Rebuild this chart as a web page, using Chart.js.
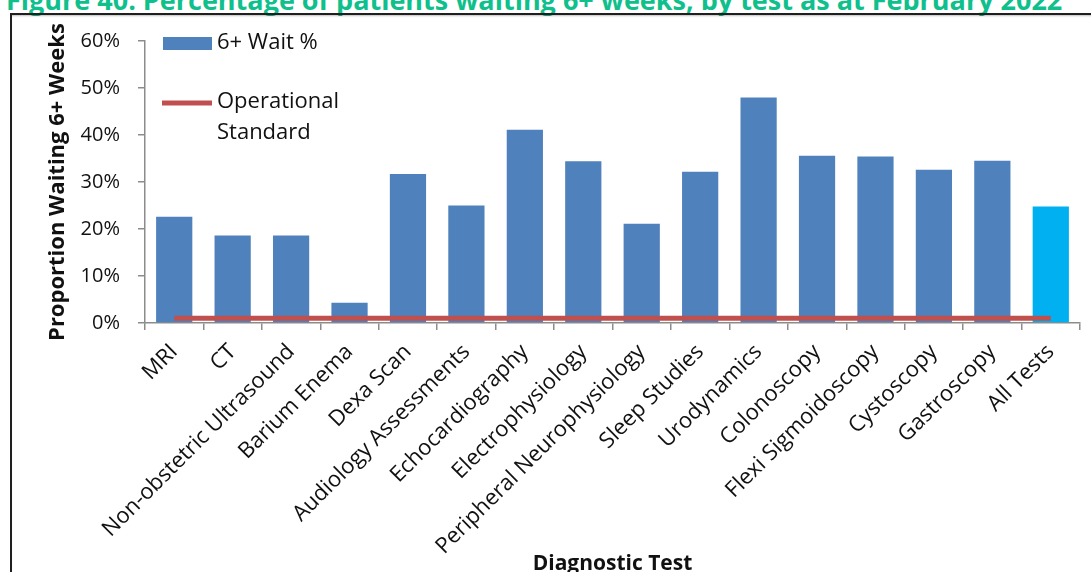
<!DOCTYPE html>
<html>
<head>
<meta charset="utf-8">
<script src="https://cdn.jsdelivr.net/npm/chart.js@4"></script>
<style>
  html, body { margin: 0; padding: 0; background: #fff; overflow: hidden; }
  body { width: 1091px; height: 572px; position: relative; }
  #titulo {
    position: absolute; left: 6px; top: -19px; white-space: nowrap;
    font: bold 27px "Open Sans", sans-serif; color: #0fbf8c;
  }
  #moldura {
    position: absolute; left: 10px; top: 13px; width: 1200px; height: 700px;
    border-top: 2px solid #1f1f1f; border-left: 2px solid #1f1f1f;
    box-shadow: -1px 1px 2px rgba(0,0,0,0.25) inset;
  }
  #caixa { position: absolute; left: 0; top: 0; width: 1091px; height: 590px; }
</style>
</head>
<body>
<div id="titulo">Figure 40: Percentage of patients waiting 6+ weeks, by test as at February 2022</div>
<div id="moldura"></div>
<div id="caixa"><canvas id="grafico"></canvas></div>
<script>
(function () {
  const testes = [
    "MRI", "CT", "Non-obstetric Ultrasound", "Barium Enema", "Dexa Scan",
    "Audiology Assessments", "Echocardiography", "Electrophysiology",
    "Peripheral Neurophysiology", "Sleep Studies", "Urodynamics", "Colonoscopy",
    "Flexi Sigmoidoscopy", "Cystoscopy", "Gastroscopy", "All Tests"
  ];
  const espera6 = [22.6, 18.6, 18.6, 4.3, 31.7, 25.0, 41.1, 34.4, 21.1, 32.2, 48.0, 35.6, 35.4, 32.6, 34.5, 24.8];
  const padraoOperacional = [1, 1, 1, 1, 1, 1, 1, 1, 1, 1, 1, 1, 1, 1, 1, 1];
  const ticksY = [0, 10, 20, 30, 40, 50, 60];

  const AZUL = "#4f81bd";
  const AZUL_TOTAL = "#00b0f0";
  const VERMELHO = "#c0504d";
  const FONTE = "'Open Sans', sans-serif";

  const coresBarras = testes.map(t => t === "All Tests" ? AZUL_TOTAL : AZUL);

  // legenda desenhada dentro da área do gráfico, como no original
  const legendaInterna = {
    id: "legendaInterna",
    afterDatasetsDraw(chart) {
      const { ctx, chartArea: ca } = chart;
      const x0 = ca.left + 18;
      ctx.save();
      ctx.fillStyle = AZUL;
      ctx.fillRect(x0, ca.top - 4, 49, 13);
      ctx.strokeStyle = VERMELHO;
      ctx.lineWidth = 5;
      ctx.beginPath();
      ctx.moveTo(x0 - 1, ca.top + 62);
      ctx.lineTo(x0 + 49, ca.top + 62);
      ctx.stroke();
      ctx.fillStyle = "#111";
      ctx.font = "22px " + FONTE;
      ctx.textBaseline = "middle";
      ctx.fillText("6+ Wait %", x0 + 54, ca.top + 2);
      ctx.fillText("Operational", x0 + 54, ca.top + 61);
      ctx.fillText("Standard", x0 + 54, ca.top + 92);
      ctx.restore();
    }
  };

  new Chart(document.getElementById("grafico"), {
    type: "bar",
    data: {
      labels: testes,
      datasets: [
        {
          type: "line", label: "Operational Standard", data: padraoOperacional,
          borderColor: VERMELHO, borderWidth: 5, pointRadius: 0, order: 0
        },
        {
          label: "6+ Wait %", data: espera6, backgroundColor: coresBarras,
          borderWidth: 0, categoryPercentage: 1, barPercentage: 0.62, order: 1
        }
      ]
    },
    options: {
      responsive: true,
      maintainAspectRatio: false,
      animation: false,
      layout: { padding: { left: 45, top: 41, right: 11, bottom: 0 } },
      plugins: { legend: { display: false }, tooltip: { enabled: false } },
      scales: {
        x: {
          afterFit: (s) => { s.height = 267; },
          border: { color: "#8c8c8c", width: 1.5 },
          grid: { display: true, drawOnChartArea: false, offset: true, tickLength: 7, color: "#8c8c8c", lineWidth: 1.5 },
          ticks: { minRotation: 45, maxRotation: 45, padding: 9, color: "#111", font: { family: FONTE, size: 22 } },
          title: { display: true, text: "Diagnostic Test", color: "#111", padding: { top: 0, bottom: 13 },
                   font: { family: FONTE, size: 21, weight: "bold" } }
        },
        y: {
          min: 0, max: 60,
          afterFit: (s) => { s.width = 100; },
          afterBuildTicks: (s) => { s.ticks = ticksY.map(v => ({ value: v })); },
          border: { color: "#8c8c8c", width: 1.5 },
          grid: { display: true, drawOnChartArea: false, tickLength: 7, color: "#8c8c8c", lineWidth: 1.5 },
          ticks: { padding: 18, color: "#111", font: { family: FONTE, size: 20 }, callback: (v) => v + "%" },
          title: { display: true, text: "Proportion Waiting 6+ Weeks", color: "#111", padding: 0,
                   font: { family: FONTE, size: 22, weight: "bold" } }
        }
      }
    },
    plugins: [legendaInterna]
  });
})();
</script>
</body>
</html>
